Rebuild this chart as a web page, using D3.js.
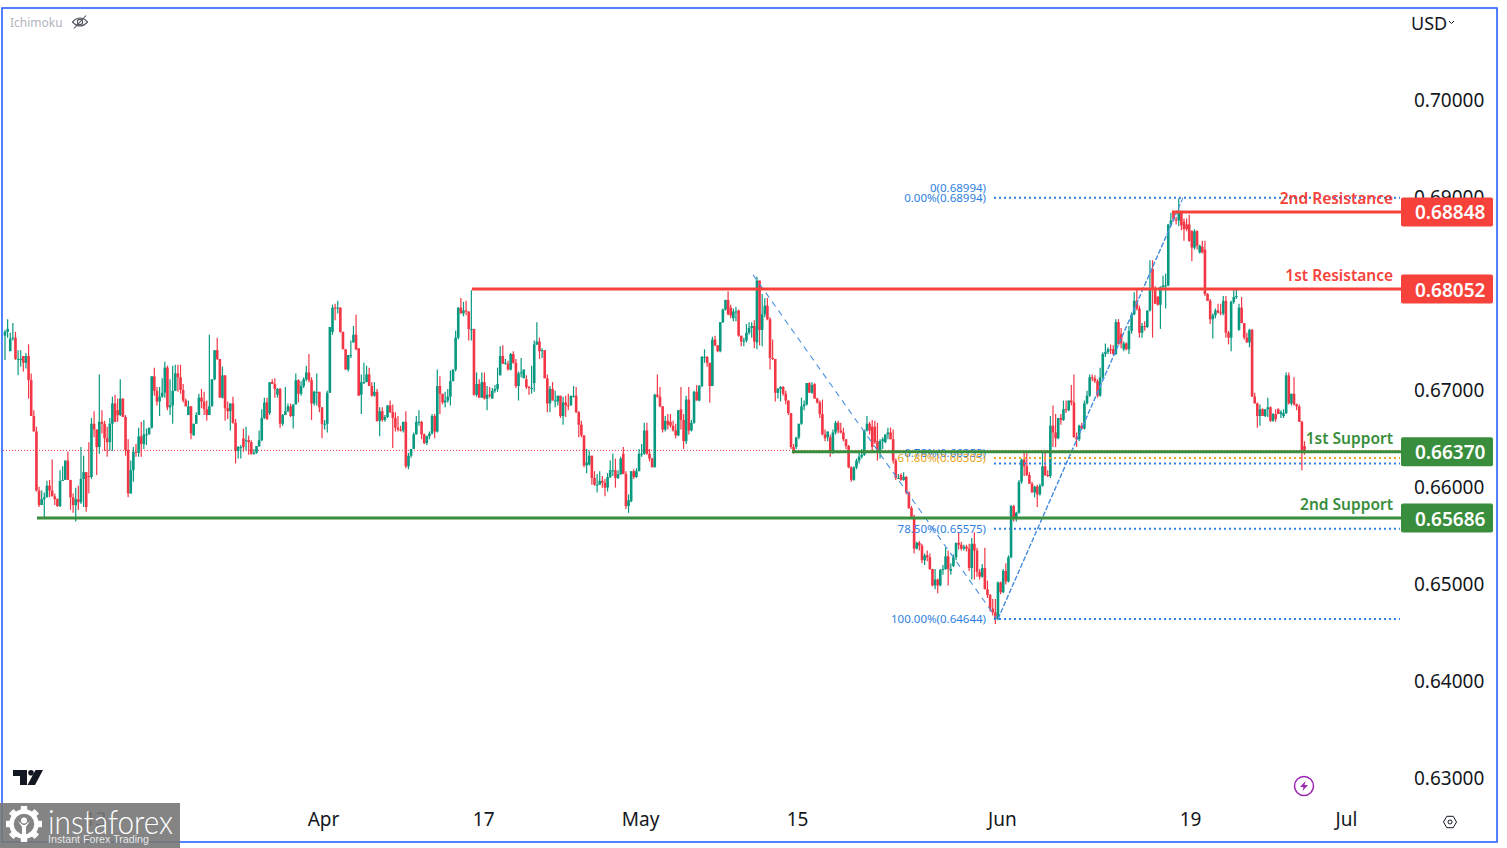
<!DOCTYPE html>
<html>
<head>
<meta charset="utf-8">
<title>AUD/USD</title>
<script src="https://cdn.jsdelivr.net/npm/d3@7"></script>
<style>
  html, body { margin: 0; padding: 0; background: #fff; }
  svg { display: block; }
  text { font-family: "Noto Sans", sans-serif; }
</style>
</head>
<body>
<div id="chart"></div>
<script>
// 4h candles as [open, high, low, close], in 1/10000 of a price unit
const candlesMar = [
  [6757,6763,6732,6761],[6761,6774,6755,6764],[6741,6760,6741,6754],[6754,6770,6752,6755],[6755,6761,6732,6733],[6733,6742,6716,6733],[6733,6742,6725,6733],[6736,6736,6720,6729],[6729,6739,6723,6736],[6736,6748,6692,6711],
  [6711,6718,6674,6674],[6674,6680,6658,6658],[6658,6663,6596,6597],[6597,6601,6580,6582],[6582,6597,6582,6588],[6588,6595,6569,6590],[6590,6607,6590,6602],[6602,6608,6590,6597],[6597,6629,6591,6591],[6591,6594,6582,6588],
  [6588,6589,6580,6581],[6581,6618,6580,6607],[6607,6622,6607,6608],[6608,6628,6608,6628],[6628,6637,6608,6608],[6608,6608,6577,6590],[6590,6594,6574,6582],[6582,6600,6565,6588],[6588,6602,6577,6585],[6585,6642,6583,6609],
  [6609,6633,6580,6616],[6616,6616,6575,6580],[6612,6647,6594,6611],[6611,6672,6609,6666],[6666,6679,6652,6660],[6660,6660,6613,6642],[6642,6717,6635,6668],[6668,6680,6656,6666],[6666,6669,6638,6651],[6651,6663,6632,6647],
  [6647,6672,6638,6666],[6666,6694,6638,6687],[6687,6696,6668,6668],[6680,6692,6668,6675],[6675,6712,6674,6692],[6692,6692,6673,6673],[6673,6675,6633,6639],[6639,6650,6590,6594],[6594,6628,6594,6618],[6618,6642,6606,6637],
  [6637,6645,6632,6636],[6636,6662,6632,6653],[6653,6668,6632,6645],[6645,6670,6640,6655],[6655,6661,6644,6655],[6655,6662,6655,6662],[6662,6715,6661,6715],[6715,6724,6695,6700],[6700,6704,6685,6689],[6689,6704,6674,6694],
  [6694,6713,6693,6698],[6698,6730,6693,6724],[6724,6726,6680,6683],[6683,6712,6675,6685],[6685,6726,6666,6700],[6700,6727,6700,6718],[6718,6727,6699,6714],[6714,6727,6697,6701],[6701,6707,6688,6690],[6690,6692,6684,6684],
  [6675,6690,6675,6684],[6684,6684,6650,6656],[6654,6666,6654,6666],[6666,6678,6666,6675],[6675,6697,6675,6693],[6693,6702,6682,6689],[6689,6699,6675,6681],[6681,6690,6669,6675],[6675,6758,6675,6684],[6684,6712,6684,6712],
  [6712,6742,6711,6742],[6742,6755,6732,6733],[6733,6733,6693,6693],[6693,6725,6692,6716],[6716,6716,6669,6682],[6682,6689,6671,6679],[6679,6687,6659,6687],[6687,6694,6666,6667],[6667,6671,6625,6638],[6638,6643,6630,6642],
  [6642,6644,6630,6642],[6651,6661,6637,6642],[6649,6663,6638,6649],[6649,6654,6634,6647],[6647,6649,6634,6635],[6635,6640,6634,6636],[6636,6643,6635,6643],[6643,6659,6642,6649],[6649,6681,6648,6672],[6672,6693,6671,6688],
  [6688,6693,6670,6671],[6677,6709,6675,6709],[6709,6712,6707,6707],[6707,6713,6693,6702],[6696,6703,6693,6702],[6702,6703,6662,6666],[6666,6676,6664,6675],[6675,6704,6675,6679],[6679,6687,6678,6684],[6684,6687,6673,6674],
  [6674,6686,6661,6686],[6686,6718,6686,6711],[6711,6712,6688,6697],[6697,6710,6695,6705],[6705,6714,6703,6712],[6712,6726,6710,6719],[6719,6738,6709,6711],[6711,6714,6670,6687],[6687,6700,6685,6699],[6699,6718,6685,6699],
  [6699,6699,6678,6683]
];
const candlesApr = [
  [6683,6683,6651,6666],[6666,6670,6660,6666],[6666,6700,6657,6698],[6698,6766,6698,6766],[6761,6789,6758,6786],[6786,6790,6773,6785],[6785,6793,6780,6786],[6786,6786,6760,6761],[6761,6761,6743,6743],[6743,6743,6722,6722],
  [6722,6737,6720,6737],[6736,6752,6734,6737],[6750,6767,6750,6758],[6758,6779,6742,6743],[6744,6744,6695,6695],[6696,6717,6676,6709],[6709,6729,6707,6709],[6709,6726,6709,6717],[6717,6724,6705,6705],[6705,6709,6694,6695],
  [6695,6709,6694,6699],[6699,6702,6668,6669],[6669,6683,6653,6679],[6679,6683,6668,6670],[6670,6675,6668,6673],[6673,6685,6672,6685],[6685,6690,6677,6678],[6678,6686,6641,6672],[6672,6678,6658,6662],[6662,6674,6658,6660],
  [6660,6664,6658,6659],[6659,6668,6657,6668],[6668,6679,6620,6622],[6622,6636,6619,6633],[6633,6640,6631,6640],[6640,6657,6640,6655],[6655,6674,6655,6668],[6668,6680,6664,6668],[6668,6669,6650,6655],[6655,6656,6645,6646],
  [6646,6654,6644,6653],[6653,6658,6650,6656],[6656,6676,6655,6674],[6674,6676,6651,6658],[6658,6722,6657,6705],[6705,6715,6676,6697],[6697,6697,6686,6688],[6688,6699,6683,6690],[6690,6702,6688,6694],[6694,6721,6685,6710],[6710,6722,6710,6722],
  [6722,6762,6720,6755],[6755,6786,6753,6786],[6786,6796,6780,6780],[6780,6792,6777,6783],[6783,6793,6778,6782],[6782,6782,6752,6764],[6764,6804,6752,6764],[6764,6764,6695,6696],[6696,6719,6694,6707],[6707,6712,6693,6693],
  [6693,6719,6693,6709],[6709,6719,6691,6692],[6692,6705,6680,6696],[6696,6704,6693,6695],[6692,6703,6692,6700],[6700,6706,6698,6702],[6702,6724,6699,6707],[6716,6746,6716,6736],[6736,6747,6728,6728],[6728,6733,6727,6729],[6728,6731,6721,6722],
  [6722,6739,6721,6738],[6738,6741,6728,6729],[6729,6733,6703,6705],[6705,6720,6690,6718],[6718,6734,6714,6719],[6713,6722,6713,6722],[6712,6716,6702,6704],[6704,6705,6696,6703],[6703,6726,6697,6703],[6708,6752,6699,6748],
  [6748,6771,6747,6751],[6751,6755,6733,6741],[6741,6744,6734,6742],[6742,6742,6713,6713],[6713,6717,6678,6687],[6687,6705,6678,6702],[6702,6709,6690,6690],[6690,6700,6683,6690],[6689,6695,6685,6695],[6695,6695,6672,6674],
  [6674,6694,6665,6688],[6688,6695,6673,6685],[6685,6697,6680,6684],[6685,6695,6685,6695],[6695,6705,6693,6695],[6695,6704,6677,6678],[6678,6679,6652,6665],[6665,6669,6652,6654],[6654,6654,6621,6623],[6623,6640,6615,6626],
  [6624,6638,6623,6633],[6633,6633,6603,6610],[6610,6617,6602,6603],[6603,6614,6595,6603],[6603,6617,6603,6607],[6607,6612,6600,6605],[6605,6609,6591,6600],[6600,6615,6596,6611],[6611,6628,6610,6618],[6618,6635,6612,6618],[6618,6630,6600,6610],
  [6610,6618,6609,6614],[6614,6632,6613,6630],[6635,6642,6614,6614],[6614,6617,6578,6581],[6581,6593,6574,6587],[6586,6617,6585,6617],[6617,6619,6609,6611],[6611,6620,6610,6617],[6617,6640,6617,6635],[6635,6645,6632,6635],
  [6635,6667,6634,6659]
];
const candlesMay = [
  [6659,6667,6634,6635],[6635,6640,6627,6630],[6630,6631,6621,6621],[6621,6697,6621,6696],[6696,6717,6693,6694],[6694,6704,6683,6684],[6684,6684,6657,6660],[6660,6674,6658,6669],[6669,6676,6660,6665],[6668,6676,6662,6664],
  [6664,6669,6658,6659],[6659,6666,6651,6654],[6654,6680,6653,6680],[6681,6704,6660,6670],[6670,6676,6640,6648],[6648,6695,6645,6691],[6691,6704,6655,6659],[6659,6670,6658,6667],[6667,6700,6666,6699],[6699,6706,6690,6690],
  [6690,6706,6689,6705],[6705,6736,6704,6735],[6735,6743,6729,6735],[6735,6736,6725,6729],[6729,6729,6688,6705],[6705,6756,6705,6753],[6753,6757,6746,6747],[6747,6747,6740,6741],
  [6741,6771,6740,6771],[6771,6785,6770,6784],[6784,6794,6783,6794],[6794,6803,6778,6779],[6786,6789,6775,6778],[6775,6785,6772,6782],[6782,6787,6772,6782],[6783,6784,6756,6757],[6757,6757,6746,6751],[6751,6755,6746,6752],
  [6752,6769,6750,6760],[6760,6771,6758,6765],[6765,6771,6755,6767],[6767,6773,6744,6751],[6750,6818,6743,6814],[6814,6814,6747,6763],[6763,6800,6746,6779],[6779,6796,6776,6788],[6788,6796,6773,6774],[6774,6776,6722,6734],
  [6734,6753,6732,6733],[6733,6733,6689,6698],[6698,6703,6692,6702],[6702,6705,6689,6704],[6704,6705,6695,6697],[6697,6700,6686,6690],[6690,6690,6675,6677],[6677,6677,6640,6642],[6642,6645,6635,6637],[6642,6652,6640,6652],
  [6652,6666,6650,6666],[6666,6693,6665,6684],[6684,6690,6680,6686],[6686,6708,6685,6708],[6708,6709,6698,6698],[6698,6709,6697,6706],[6707,6708,6692,6692],[6692,6693,6687,6688],[6688,6690,6672,6676],[6676,6691,6654,6655],
  [6655,6660,6648,6651],[6652,6658,6648,6658],[6652,6655,6632,6637],[6637,6660,6635,6657],[6657,6669,6655,6667],[6667,6669,6656,6659],[6659,6667,6656,6657],[6657,6662,6648,6650],[6650,6650,6640,6643],[6643,6644,6620,6621],
  [6621,6622,6606,6608],[6608,6622,6607,6621],[6621,6630,6619,6628],[6628,6637,6625,6632],[6632,6640,6630,6634],[6634,6660,6633,6659],[6659,6674,6658,6666],[6666,6668,6655,6659],[6663,6670,6638,6642],[6663,6669,6645,6647],
  [6648,6667,6628,6638],[6638,6650,6630,6648],[6648,6652,6640,6650],[6647,6655,6646,6655],[6655,6662,6650,6657],[6657,6662,6650,6650],[6650,6660,6625,6628],[6628,6630,6608,6610],[6610,6614,6609,6610],[6613,6615,6607,6608],
  [6608,6616,6607,6611],[6611,6612,6593,6595],[6595,6596,6578,6579],[6579,6581,6568,6570],[6570,6572,6532,6537],[6537,6544,6536,6543],[6543,6545,6535,6540],[6540,6542,6522,6525],[6525,6532,6520,6530],[6530,6535,6524,6528],[6528,6532,6515,6516],
  [6516,6516,6498,6499],[6499,6516,6495,6505],[6505,6506,6491,6499],[6499,6516,6498,6515],[6515,6520,6510,6516],[6516,6538,6515,6529],[6529,6535,6499,6516],[6514,6522,6510,6516],[6519,6531,6518,6528],[6528,6543,6525,6543],
  [6543,6554,6536,6541],[6541,6544,6535,6537],[6537,6541,6535,6539],[6539,6541,6534,6537],[6537,6542,6514,6517],[6517,6548,6505,6542],[6542,6554,6505,6535],[6535,6538,6508,6513],[6513,6516,6505,6508],[6508,6521,6507,6517],
  [6517,6538,6495,6495],[6495,6504,6486,6489],[6489,6490,6472,6475],[6475,6485,6468,6471],[6471,6485,6459,6464],[6464,6503,6463,6502],[6502,6503,6490,6492]
];
const candlesJun = [
  [6492,6516,6491,6514],[6514,6522,6500,6503],[6503,6530,6502,6528],[6528,6582,6527,6581],[6581,6582,6565,6568],[6568,6575,6565,6574],[6574,6608,6573,6606],[6606,6630,6604,6629],[6629,6637,6612,6622],[6622,6637,6612,6613],
  [6613,6616,6604,6604],[6604,6606,6595,6595],[6595,6602,6590,6601],[6601,6603,6580,6593],[6593,6604,6592,6602],[6602,6636,6601,6622],[6622,6637,6612,6613],[6613,6618,6611,6612],[6612,6674,6610,6664],[6664,6685,6642,6657],
  [6657,6676,6642,6651],[6651,6672,6650,6672],[6672,6676,6665,6670],[6670,6690,6669,6681],[6681,6690,6677,6680],[6680,6690,6679,6690],[6690,6706,6685,6688],[6688,6717,6652,6652],[6652,6657,6642,6650],[6650,6665,6648,6664],
  [6664,6667,6660,6661],[6661,6690,6660,6687],[6687,6700,6686,6695],[6695,6717,6694,6714],[6714,6717,6710,6713],[6713,6716,6708,6710],[6710,6712,6693,6695],[6695,6724,6694,6714],[6714,6740,6712,6738],[6738,6749,6735,6740],
  [6740,6745,6738,6743],[6743,6748,6738,6742],[6743,6747,6737,6738],[6738,6774,6737,6771],[6771,6774,6748,6748],[6759,6765,6744,6749],[6743,6751,6741,6749],[6749,6750,6742,6743],[6743,6767,6738,6762],[6762,6781,6759,6779],
  [6779,6802,6778,6793],[6793,6806,6783,6785],[6785,6788,6755,6760],[6760,6770,6755,6767],[6767,6772,6762,6766],[6766,6783,6765,6783],[6783,6835,6782,6805],[6826,6835,6755,6805],[6805,6808,6790,6790],[6797,6798,6788,6789],
  [6789,6808,6764,6807],[6807,6819,6805,6809],[6809,6821,6785,6809],[6809,6872,6808,6872],[6872,6884,6870,6876],[6884,6885,6875,6877],[6877,6880,6872,6876],[6876,6899,6870,6884],[6884,6885,6866,6871],[6875,6878,6855,6867],
  [6872,6878,6865,6867],[6872,6882,6854,6855],[6865,6866,6834,6848],[6848,6867,6846,6865],[6865,6866,6846,6850],[6843,6851,6842,6850],[6849,6855,6842,6843],[6846,6855,6798,6800],[6800,6801,6793,6793],[6793,6795,6769,6774],
  [6774,6780,6754,6778],[6778,6785,6775,6783],[6783,6790,6780,6781],[6781,6790,6778,6780],[6780,6798,6778,6793],[6793,6798,6755,6760],[6760,6762,6748,6755],[6755,6793,6741,6792],[6792,6805,6790,6797],[6797,6805,6795,6798],
  [6763,6790,6762,6786],[6786,6797,6770,6770],[6770,6770,6753,6755],[6755,6760,6750,6750],[6750,6764,6745,6763],[6763,6764,6694,6694],[6694,6698,6687,6687],[6687,6688,6662,6674],[6674,6686,6664,6681],[6681,6682,6674,6674],
  [6674,6681,6673,6681],[6681,6693,6673,6683],[6683,6684,6668,6669],[6669,6677,6668,6676],[6676,6681,6668,6671],[6681,6682,6676,6676],[6676,6680,6672,6678],[6674,6681,6672,6677],[6677,6719,6676,6716],[6716,6719,6686,6687],
  [6687,6697,6685,6697],[6697,6714,6685,6686],[6686,6687,6680,6684],[6684,6686,6668,6668],[6668,6669,6618,6638],[6643,6648,6634,6637]
];

// 0.68000 sits behind the 1st Resistance box in the picture, so it has no label here
const priceTicks = [0.63, 0.64, 0.65, 0.66, 0.67, 0.69, 0.70];
const timeTicks = [34.4, 121.4, 182.5, 242.4, 302.3, 380.5, 452.3, 511.8];
const timeLabels = ["13", "Apr", "17", "May", "15", "Jun", "19", "Jul"];

const levelNames = ["2nd Resistance", "1st Resistance", "1st Support", "2nd Support"];
const levelPrices = [0.68848, 0.68052, 0.6637, 0.65686];
const levelStarts = [445.4, 178.2, 300.4, 12.2];
const levelColors = ["#f6423a", "#f6423a", "#388e3c", "#388e3c"];

const fibLabels = ["0.00%(0.68994)", "0.78%(0.66353)", "61.80%(0.66305)", "78.50%(0.65575)", "100.00%(0.64644)"];
const fibLabelPrices = [0.68994, 0.66353, 0.66305, 0.65575, 0.64644];
const fibLinePrices = [0.68994, 0.66305, 0.6625, 0.65575, 0.64644];
const fibLineColors = ["#2e7fe0", "#eda622", "#2e7fe0", "#2e7fe0", "#2e7fe0"];
const fibLabelColors = ["#2e7fe0", "#2e7fe0", "#e8a317", "#2e7fe0", "#2e7fe0"];

// [fromIndex, fromPrice, toIndex, toPrice]
const trendLines = [
  [285.5, 0.68200, 378.6, 0.64644],
  [379, 0.64644, 449.6, 0.68994],
  [379, 0.64644, 447.5, 0.68860]
];
const lastPrice = 0.66385;

const width = 1507;
const height = 848;
const plotRight = 1401;

const candles = [...candlesMar, ...candlesApr, ...candlesMay, ...candlesJun].map((d, i) => ({
  i,
  open: d[0] / 10000,
  high: d[1] / 10000,
  low: d[2] / 10000,
  close: d[3] / 10000
}));

const x = d3.scaleLinear().domain([0, candles.length - 1]).range([5, 1304.5]);
const y = d3.scaleLinear().domain([0.63, 0.70]).range([778, 100.5]);

const svg = d3.select("#chart").append("svg").attr("width", width).attr("height", height);

// axes
const yAxis = svg.append("g")
  .attr("transform", "translate(1414,0)")
  .call(d3.axisRight(y).tickValues(priceTicks).tickFormat(d3.format(".5f")).tickSize(0).tickPadding(0));
yAxis.select(".domain").remove();
yAxis.selectAll("text").attr("fill", "#131722").style("font-size", "19px").style("font-family", '"Noto Sans", sans-serif');

const xAxis = svg.append("g")
  .attr("transform", "translate(0,812)")
  .call(d3.axisBottom(x).tickValues(timeTicks).tickFormat((d, i) => timeLabels[i]).tickSize(0).tickPadding(0));
xAxis.select(".domain").remove();
xAxis.selectAll("text").attr("fill", "#131722").style("font-size", "19px").style("font-family", '"Noto Sans", sans-serif');

// last price line
svg.append("line")
  .attr("x1", 3).attr("x2", plotRight)
  .attr("y1", y(lastPrice)).attr("y2", y(lastPrice))
  .attr("stroke", "#f23645").attr("stroke-width", 1).attr("stroke-dasharray", "1 2");

// candles
const candleG = svg.append("g");
candleG.selectAll("line").data(candles).join("line")
  .attr("x1", (d) => x(d.i)).attr("x2", (d) => x(d.i))
  .attr("y1", (d) => y(d.high)).attr("y2", (d) => y(d.low))
  .attr("stroke", (d) => (d.close >= d.open ? "#089981" : "#f23645"))
  .attr("stroke-width", 1.2);
candleG.selectAll("rect").data(candles).join("rect")
  .attr("x", (d) => x(d.i) - 1.3)
  .attr("width", 2.6)
  .attr("y", (d) => y(Math.max(d.open, d.close)))
  .attr("height", (d) => Math.max(1, Math.abs(y(d.open) - y(d.close))))
  .attr("fill", (d) => (d.close >= d.open ? "#089981" : "#f23645"));

// fibonacci drawing
svg.append("g").selectAll("line").data(fibLinePrices).join("line")
  .attr("x1", 994).attr("x2", 1400)
  .attr("y1", (d) => y(d)).attr("y2", (d) => y(d))
  .attr("stroke", (d, i) => fibLineColors[i])
  .attr("stroke-width", 2)
  .attr("stroke-dasharray", "2 3");

svg.append("g").selectAll("line").data(trendLines).join("line")
  .attr("x1", (d) => x(d[0])).attr("y1", (d) => y(d[1]))
  .attr("x2", (d) => x(d[2])).attr("y2", (d) => y(d[3]))
  .attr("stroke", "#4a90e2")
  .attr("stroke-width", 1.1)
  .attr("stroke-dasharray", (d, i) => (i === 0 ? "6 5" : "5 2"));

const fibText = svg.append("g").attr("text-anchor", "end").style("font-size", "11.5px");
fibText.selectAll("text").data(fibLabels).join("text")
  .attr("x", 986)
  .attr("y", (d, i) => y(fibLabelPrices[i]) + 4)
  .attr("fill", (d, i) => fibLabelColors[i])
  .text((d) => d);
fibText.append("text")
  .attr("x", 986).attr("y", y(0.68994) - 6)
  .attr("fill", "#2e7fe0")
  .text("0(0.68994)");

// support and resistance levels
const levels = svg.append("g");
levels.selectAll("line").data(levelPrices).join("line")
  .attr("x1", (d, i) => x(levelStarts[i])).attr("x2", plotRight + 2)
  .attr("y1", (d) => y(d)).attr("y2", (d) => y(d))
  .attr("stroke", (d, i) => levelColors[i])
  .attr("stroke-width", 3);
levels.selectAll("rect").data(levelPrices).join("rect")
  .attr("x", plotRight).attr("width", 92)
  .attr("y", (d) => y(d) - 14.5).attr("height", 29)
  .attr("rx", 2)
  .attr("fill", (d, i) => levelColors[i]);
levels.selectAll(".price").data(levelPrices).join("text")
  .attr("class", "price")
  .attr("x", 1415).attr("y", (d) => y(d) + 7.5)
  .attr("fill", "#fff")
  .style("font-size", "19px").style("font-weight", 600)
  .text((d) => d.toFixed(5));
levels.selectAll(".name").data(levelNames).join("text")
  .attr("class", "name")
  .attr("x", 1393).attr("y", (d, i) => y(levelPrices[i]) - 8)
  .attr("text-anchor", "end")
  .attr("fill", (d, i) => levelColors[i])
  .style("font-size", "15.5px").style("font-weight", 600)
  .text((d) => d);

// top left legend
svg.append("text").attr("x", 10).attr("y", 27)
  .attr("fill", "#b2b5be").style("font-size", "12px").text("Ichimoku");
const eye = svg.append("g").attr("transform", "translate(80,22)").attr("fill", "none").attr("stroke", "#50535e").attr("stroke-width", 1.1);
eye.append("path").attr("d", "M-7.5 0 Q0 -8 7.5 0 Q0 8 -7.5 0Z");
eye.append("circle").attr("r", 2.6);
eye.append("line").attr("x1", -6).attr("y1", 6.5).attr("x2", 6).attr("y2", -6.5);

// currency selector
svg.append("text").attr("x", 1411).attr("y", 30)
  .attr("fill", "#131722").style("font-size", "18px").text("USD");
svg.append("path").attr("d", "M1449 21 l2.5 2.5 l2.5 -2.5").attr("fill", "none").attr("stroke", "#131722").attr("stroke-width", 1);

// tradingview logo
const logo = svg.append("g").attr("fill", "#131722");
logo.append("path").attr("d", "M13 770 H27 V785 H20 V776 H13Z");
logo.append("circle").attr("cx", 31).attr("cy", 772.8).attr("r", 2.8);
logo.append("path").attr("d", "M35.5 770 H43 L35 785 H27.5Z");

// lightning badge
const bolt = svg.append("g").attr("transform", "translate(1304,786)");
bolt.append("circle").attr("r", 9.5).attr("fill", "none").attr("stroke", "#9c27b0").attr("stroke-width", 1.5);
bolt.append("path").attr("d", "M1.5 -5 L-4 1 H-0.5 L-1.5 5 L4 -1 H0.5Z").attr("fill", "#9c27b0");

// settings hexagon
const gearHex = svg.append("g").attr("transform", "translate(1450,822)").attr("fill", "none").attr("stroke", "#131722").attr("stroke-width", 1);
gearHex.append("path").attr("d", "M-6.5 0 L-3.2 -5.7 H3.2 L6.5 0 L3.2 5.7 H-3.2Z");
gearHex.append("circle").attr("r", 2);

// blue outer frame
svg.append("rect")
  .attr("x", 2).attr("y", 8).attr("width", 1495).attr("height", 834)
  .attr("fill", "none").attr("stroke", "#2962ff").attr("stroke-width", 1.6);

// instaforex watermark
const mark = svg.append("g");
mark.append("rect").attr("x", 0).attr("y", 803).attr("width", 180).attr("height", 45)
  .attr("fill", "#777").attr("opacity", 0.9);
const cog = mark.append("g").attr("transform", "translate(24,824)").attr("fill", "#fff");
d3.range(8).forEach((k) => {
  cog.append("rect").attr("x", -3.2).attr("y", -18).attr("width", 6.4).attr("height", 7)
    .attr("transform", `rotate(${k * 45})`);
});
cog.append("circle").attr("r", 12.5).attr("fill", "none").attr("stroke", "#fff").attr("stroke-width", 4.5);
cog.append("circle").attr("cy", -3.5).attr("r", 3);
cog.append("path").attr("d", "M-6 -3 L-2 3 V12 H2 V3 L6 -3 L1 1 H-1Z");
mark.append("text").attr("x", 48).attr("y", 834)
  .attr("textLength", 125).attr("lengthAdjust", "spacingAndGlyphs")
  .attr("fill", "#fff").style("font-size", "33px").style("font-family", "Lato, sans-serif").style("font-weight", 300)
  .text("instaforex");
mark.append("text").attr("x", 48).attr("y", 843)
  .attr("fill", "#e8e8e8").style("font-size", "10.7px").style("font-family", '"Liberation Sans", sans-serif')
  .text("Instant Forex Trading");
</script>
</body>
</html>
